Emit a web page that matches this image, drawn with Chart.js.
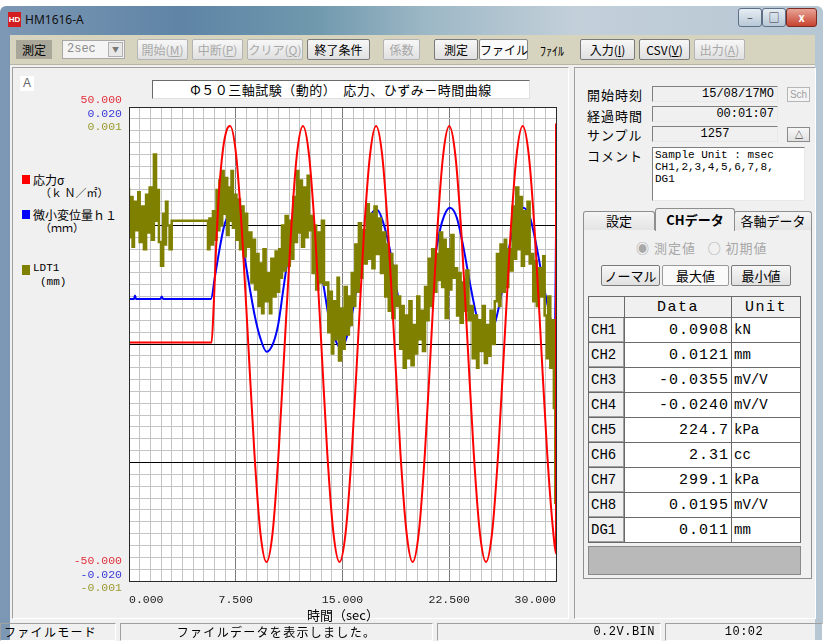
<!DOCTYPE html>
<html lang="ja">
<head>
<meta charset="utf-8">
<title>HM1616-A</title>
<script src="https://cdn.jsdelivr.net/npm/chart.js@4.4.1/dist/chart.umd.min.js"></script>
<style>
  * { box-sizing: border-box; }
  body { margin: 0; width: 823px; height: 641px; overflow: hidden; position: relative; background: #fff;
         font-family: "Noto Sans CJK JP", sans-serif; font-size: 12px; color: #000; }
  .a { position: absolute; white-space: nowrap; }
  .mono { font-family: "Liberation Mono", monospace; }

  #frame { left: 0; top: 6px; width: 823px; height: 635px; border-radius: 6px 6px 0 0;
           background: linear-gradient(90deg, #7d98b4 0%, #5f84a6 22%, #6f98ad 38%, #9db8c6 52%, #c3d0da 70%, #b6c6d3 100%); }
  #client { left: 10px; top: 35px; width: 805px; height: 606px; background: #f0f0f0; }
  #toolbar { left: 10px; top: 35px; width: 805px; height: 30px; background: #d6d3be; border-bottom: 1px solid #b8b5a2; }

  .btn { position: absolute; top: 39px; height: 21px; border: 1px solid #7a7a7a; border-radius: 2px;
         background: linear-gradient(#f7f7f7, #e0e0e0); text-align: center; line-height: 19px; font-size: 12px; white-space: nowrap; }
  .btn.off { color: #a8a8a8; border-color: #b4b4b4; }
  .btn.down { background: #fafafa; border-color: #8a8a8a; }

  .win { top: 8px; height: 19px; border: 1px solid #5d6f84; border-radius: 3px;
         background: linear-gradient(#e6edf3, #b8c8d6); color: #334; text-align: center; font-size: 11px; line-height: 16px; }

  .panel { border: 1px solid; border-color: #a0a0a0 #ffffff #ffffff #a0a0a0; }
  .field { background: #f0f0f0; border: 1px solid; border-color: #7f7f7f #e8e8e8 #e8e8e8 #7f7f7f; height: 16px;
           font-family: "Liberation Mono", monospace; font-size: 12px; line-height: 14px; padding: 0 3px; }
  .lbl { font-size: 13px; letter-spacing: 1px; }

  .stat { top: 623px; height: 18px; border: 1px solid; border-color: #a0a0a0 #fff #fff #a0a0a0; font-size: 12px;
          letter-spacing: 1.3px; line-height: 16px; }

  #tbl { left: 588px; top: 296px; border-collapse: collapse; position: absolute; }
  #tbl td, #tbl th { border: 1px solid #6a6a6a; padding: 0; height: 25px; font-weight: normal; }
  #tbl th { height: 21px; background: #f0f0f0; font-family: "Liberation Mono", monospace; font-size: 15px; letter-spacing: 1.5px; }
  #tbl td.h { width: 36px; background: #f0f0f0; font-family: "Liberation Mono", monospace; font-size: 14px; padding-left: 2px;
              box-shadow: inset -1px -1px 0 #a0a0a0; }
  #tbl td.v { width: 107px; background: #fff; text-align: right; font-family: "Liberation Mono", monospace; font-size: 15px;
              letter-spacing: 1px; padding-right: 2px; }
  #tbl td.u { width: 69px; background: #fff; font-family: "Liberation Mono", monospace; font-size: 14px; padding-left: 2px; }

  #plotWrap { left: 60px; top: 90px; width: 510px; height: 530px; }
</style>
</head>
<body>

<!-- window chrome -->
<div id="frame" class="a"></div>
<div class="a" style="left:8px;top:12px;width:13px;height:15px;background:#d21e1e;color:#fff;font:bold 8px 'Liberation Sans';line-height:15px;text-align:center;">HD</div>
<div class="a" style="left:25px;top:11px;font:12px 'Noto Sans';color:#111;">HM1616-A</div>
<div class="a win" style="left:738px;width:24px;">&#8211;</div>
<div class="a win" style="left:762px;width:24px;">&#9633;</div>
<div class="a win" style="left:786px;width:31px;background:linear-gradient(#e8a496,#c7432f);color:#fff;border-color:#7c2b22;font-weight:bold;">x</div>

<div id="client" class="a"></div>
<div id="toolbar" class="a"></div>

<!-- toolbar -->
<div class="a" style="left:16px;top:40px;width:36px;height:19px;background:#a9a79a;text-align:center;line-height:19px;font-size:12px;">測定</div>
<div class="a" style="left:62px;top:40px;width:63px;height:19px;background:#f4f4f4;border:1px solid #a8a8a8;font:12px 'Liberation Mono';color:#8a8a8a;line-height:17px;padding-left:4px;">2sec</div>
<div class="a" style="left:108px;top:42px;width:15px;height:15px;border:1px solid #b0b0b0;background:#e8e8e8;font-size:7px;text-align:center;line-height:13px;color:#777;">&#9660;</div>
<div class="btn off" style="left:137px;width:51px;">開始(<u>M</u>)</div>
<div class="btn off" style="left:192px;width:51px;">中断(<u>P</u>)</div>
<div class="btn off" style="left:247px;width:56px;">クリア(<u>Q</u>)</div>
<div class="btn" style="left:307px;width:63px;">終了条件</div>
<div class="btn off" style="left:383px;width:37px;">係数</div>
<div class="btn" style="left:434px;width:44px;">測定</div>
<div class="btn down" style="left:479px;width:49px;">ファイル</div>
<div class="a" style="left:540px;top:42px;font-size:12px;">ﾌｧｲﾙ</div>
<div class="btn" style="left:580px;width:55px;">入力(<u>I</u>)</div>
<div class="btn" style="left:639px;width:51px;">CSV(<u>V</u>)</div>
<div class="btn off" style="left:694px;width:51px;">出力(<u>A</u>)</div>

<!-- graph panel -->
<div class="a panel" style="left:12px;top:67px;width:557px;height:552px;"></div>
<div class="a" style="left:20px;top:76px;width:14px;height:15px;background:#fff;color:#666;font:12px 'Liberation Sans';text-align:center;line-height:15px;">A</div>
<div class="a" style="left:152px;top:80px;width:378px;height:19px;background:#fff;border:1px solid;border-color:#6a6a6a #e0e0e0 #e0e0e0 #6a6a6a;text-align:center;font-size:13px;line-height:17px;letter-spacing:0.5px;">Φ５０三軸試験（動的）　応力、ひずみ－時間曲線</div>

<div class="a" style="left:22px;top:175px;width:8px;height:9px;background:#ff0000;"></div>
<div class="a" style="left:33px;top:171px;font-size:12px;">応力σ</div>
<div class="a" style="left:40px;top:184px;font-size:11px;">（ｋ Ｎ／㎡）</div>
<div class="a" style="left:22px;top:210px;width:8px;height:9px;background:#0000ff;"></div>
<div class="a" style="left:33px;top:206px;font-size:12px;">微小変位量ｈ１</div>
<div class="a" style="left:40px;top:219px;font-size:11px;">（ｍｍ）</div>
<div class="a" style="left:22px;top:265px;width:8px;height:10px;background:#808000;"></div>
<div class="a mono" style="left:33px;top:262px;font-size:11px;">LDT1</div>
<div class="a mono" style="left:40px;top:276px;font-size:11px;">(mm)</div>

<div id="plotWrap" class="a"><canvas id="plot" width="510" height="530"></canvas></div>
<div class="a" style="left:307px;top:605px;font-size:13px;">時間（sec）</div>

<!-- right panel -->
<div class="a panel" style="left:574px;top:67px;width:242px;height:552px;"></div>
<div class="a lbl" style="left:587px;top:85px;">開始時刻</div>
<div class="a lbl" style="left:587px;top:106px;">経過時間</div>
<div class="a lbl" style="left:587px;top:125px;">サンプル</div>
<div class="a lbl" style="left:587px;top:146px;">コメント</div>
<div class="a field" style="left:652px;top:86px;width:126px;text-align:right;">15/08/17MO</div>
<div class="a field" style="left:652px;top:106px;width:126px;text-align:right;">00:01:07</div>
<div class="a field" style="left:652px;top:126px;width:126px;text-align:center;">1257</div>
<div class="a" style="left:787px;top:87px;width:23px;height:15px;border:1px solid #b6b6b6;background:#f4f4f4;color:#a0a0a0;font:10px 'Liberation Sans';text-align:center;line-height:13px;">Sch</div>
<div class="a" style="left:787px;top:127px;width:23px;height:15px;border:1px solid #8a8a8a;background:linear-gradient(#f7f7f7,#e0e0e0);font:10px 'Liberation Sans';text-align:center;line-height:13px;">&#9651;</div>
<div class="a mono" style="left:652px;top:147px;width:153px;height:54px;background:#fff;border:1px solid;border-color:#7f7f7f #e8e8e8 #e8e8e8 #7f7f7f;font-size:11px;line-height:12px;padding:1px 2px;white-space:pre;">Sample Unit : msec
CH1,2,3,4,5,6,7,8,
DG1</div>

<!-- tabs -->
<div class="a" style="left:583px;top:229px;width:229px;height:350px;border:1px solid #8e8e8e;background:#f0f0f0;"></div>
<div class="a" style="left:583px;top:211px;width:72px;height:19px;border:1px solid #8e8e8e;border-bottom:none;border-radius:3px 3px 0 0;background:linear-gradient(#f4f4f4,#e4e4e4);text-align:center;font-size:13px;line-height:17px;">設定</div>
<div class="a" style="left:734px;top:211px;width:78px;height:19px;border:1px solid #8e8e8e;border-bottom:none;border-radius:3px 3px 0 0;background:linear-gradient(#f4f4f4,#e4e4e4);text-align:center;font-size:13px;line-height:17px;">各軸データ</div>
<div class="a" style="left:655px;top:208px;width:80px;height:23px;border:1px solid #8e8e8e;border-bottom:none;border-radius:3px 3px 0 0;background:#f0f0f0;text-align:center;font-size:13px;line-height:21px;font-weight:bold;">CHデータ</div>

<div class="a" style="left:636px;top:238px;font-size:13px;color:#a8a8a8;letter-spacing:1px;">&#9673; 測定値&nbsp;&nbsp;&nbsp;&#9675; 初期値</div>
<div class="btn" style="left:601px;top:265px;width:59px;font-size:13px;">ノーマル</div>
<div class="btn down" style="left:662px;top:265px;width:67px;font-size:13px;border-color:#9a9a9a;">最大値</div>
<div class="btn" style="left:731px;top:265px;width:60px;font-size:13px;">最小値</div>

<table id="tbl">
  <tr><th style="width:36px;"></th><th>Data</th><th>Unit</th></tr>
  <tr><td class="h">CH1</td><td class="v">0.0908</td><td class="u">kN</td></tr>
  <tr><td class="h">CH2</td><td class="v">0.0121</td><td class="u">mm</td></tr>
  <tr><td class="h">CH3</td><td class="v">-0.0355</td><td class="u">mV/V</td></tr>
  <tr><td class="h">CH4</td><td class="v">-0.0240</td><td class="u">mV/V</td></tr>
  <tr><td class="h">CH5</td><td class="v">224.7</td><td class="u">kPa</td></tr>
  <tr><td class="h">CH6</td><td class="v">2.31</td><td class="u">cc</td></tr>
  <tr><td class="h">CH7</td><td class="v">299.1</td><td class="u">kPa</td></tr>
  <tr><td class="h">CH8</td><td class="v">0.0195</td><td class="u">mV/V</td></tr>
  <tr><td class="h">DG1</td><td class="v">0.011</td><td class="u">mm</td></tr>
</table>
<div class="a" style="left:588px;top:546px;width:213px;height:29px;background:#b9b9b9;border:1px solid #8a8a8a;"></div>

<!-- status bar -->
<div class="a stat" style="left:0;width:116px;padding-left:3px;">ファイルモード</div>
<div class="a stat" style="left:120px;width:313px;text-align:center;">ファイルデータを表示しました。</div>
<div class="a stat mono" style="left:437px;width:224px;text-align:right;padding-right:5px;letter-spacing:0.5px;">0.2V.BIN</div>
<div class="a stat mono" style="left:665px;width:158px;text-align:center;letter-spacing:0.5px;">10:02</div>

<script>
// time axis (sec) and the three recorded channels
const timeRange = [0, 30];
const timeMajorStep = 7.5;
const timeMinorStep = 0.75;

const stressRange = [-50, 50];     // 応力σ kN/m2
const dispRange = [-0.02, 0.02];   // 微小変位量 h1 mm
const ldtRange = [-0.001, 0.001];  // LDT1 mm

// the last sample of each channel jumps at the 30 s edge
const redTime = [0, 5.80, 5.95, 6.10, 6.30, 6.60, 6.85, 7.10,
  7.53, 7.95, 8.38, 8.81, 9.23, 9.66,
  10.09, 10.51, 10.94, 11.37, 11.79, 12.22,
  12.65, 13.08, 13.51, 13.93, 14.36, 14.79,
  15.22, 15.65, 16.08, 16.50, 16.93, 17.36,
  17.79, 18.22, 18.65, 19.07, 19.50, 19.93,
  20.36, 20.79, 21.22, 21.64, 22.07, 22.50,
  22.93, 23.36, 23.79, 24.22, 24.65, 25.08,
  25.51, 25.94, 26.37, 26.80, 27.23, 27.66,
  28.09, 28.52, 28.95, 29.38, 29.81, 30.00, 30.00];
const redStress = [0.3, 0.3, 8, 19, 31, 41, 45, 46,
  39.8, 23, 0, -23, -39.8, -46,
  -39.8, -23, 0, 23, 39.8, 46,
  39.8, 23, 0, -23, -39.8, -46,
  -39.8, -23, 0, 23, 39.8, 46,
  39.8, 23, 0, -23, -39.8, -46,
  -39.8, -23, 0, 23, 39.8, 46,
  39.8, 23, 0, -23, -39.8, -46,
  -39.8, -23, 0, 23, 39.8, 46,
  39.8, 23, 0, -23, -39.8, -44.2, 46.5];

const blueTime = [0, 0.35, 0.42, 0.50, 2.20, 2.30, 2.40, 5.76,
  6.04, 6.39, 6.74, 7.10, 7.45, 7.80, 8.15, 8.50, 8.85, 9.20,
  9.67, 10.14, 10.49, 10.84, 11.19, 11.54, 11.90, 12.30, 12.72, 13.19,
  13.65, 14.12, 14.59, 14.90, 15.30, 15.76, 16.23, 16.70, 17.05, 17.45,
  17.87, 18.34, 18.81, 19.27, 19.74, 20.09, 20.56, 21.03, 21.50, 21.97,
  22.55, 23.02, 23.49, 23.96, 24.43, 24.89, 25.36, 25.83, 26.30, 26.77,
  27.24, 27.70, 28.17, 28.64, 29.11, 29.58, 29.93, 30.00];
const blueDisp = [0.0038, 0.0038, 0.0041, 0.0038, 0.0038, 0.0040, 0.0038, 0.0038,
  0.0057, 0.0082, 0.0102, 0.0108, 0.0103, 0.0091, 0.0071, 0.0046, 0.0023, 0.0006,
  -0.00065, 0.0001, 0.0017, 0.0046, 0.0074, 0.0093, 0.0107, 0.0113, 0.0107, 0.0085,
  0.0051, 0.0017, 0.0001, -0.0004, 0.0006, 0.0031, 0.0065, 0.0096, 0.0110, 0.0113,
  0.0102, 0.0079, 0.0046, 0.0017, 0.0003, 0.0001, 0.0012, 0.0040, 0.0074, 0.0102,
  0.0115, 0.0107, 0.0082, 0.0051, 0.0023, 0.0003, 0.0006, 0.0023, 0.0051, 0.0085,
  0.0107, 0.0115, 0.0107, 0.0082, 0.0051, 0.0023, 0.0005, 0.0094];

// LDT1 is a stepped signal: [time, value] at each change
const ldtSteps = [
  [0, 0.00066], [0.10, 0.00045], [0.25, 0.00062], [0.35, 0.00041], [0.50, 0.00060], [0.65, 0.00048],
  [0.75, 0.00064], [0.90, 0.00043], [1.05, 0.00058], [1.20, 0.00040], [1.30, 0.00063], [1.45, 0.00047],
  [1.60, 0.00066], [1.75, 0.00044], [1.90, 0.00080], [2.00, 0.00052], [2.10, 0.00065], [2.25, 0.00043],
  [2.40, 0.00033], [2.50, 0.00055], [2.60, 0.00042], [2.70, 0.00060], [2.85, 0.00050], [3.00, 0.00040],
  [5.55, 0.00052], [5.65, 0.00040], [5.80, 0.00053], [5.90, 0.00042], [6.05, 0.00056], [6.15, 0.00044],
  [6.25, 0.00065], [6.35, 0.00048], [6.45, 0.00069], [6.55, 0.00050], [6.65, 0.00073], [6.80, 0.00055],
  [6.90, 0.00070], [7.00, 0.00046], [7.10, 0.00066], [7.20, 0.00052], [7.30, 0.00073], [7.45, 0.00049],
  [7.55, 0.00063], [7.65, 0.00044], [7.80, 0.00061], [7.90, 0.00040], [8.05, 0.00058], [8.20, 0.00037],
  [8.30, 0.00055], [8.45, 0.00041], [8.60, 0.00047], [8.70, 0.00026], [8.85, 0.00044], [8.95, 0.00023],
  [9.10, 0.00038], [9.20, 0.00016], [9.35, 0.00034], [9.45, 0.00013], [9.60, 0.00040], [9.75, 0.00018],
  [9.90, 0.00030], [10.00, 0.00013], [10.15, 0.00036], [10.30, 0.00020], [10.40, 0.00039], [10.55, 0.00022],
  [10.65, 0.00040], [10.75, 0.00028], [10.90, 0.00050], [11.00, 0.00031], [11.15, 0.00054], [11.30, 0.00033],
  [11.40, 0.00052], [11.55, 0.00036], [11.65, 0.00062], [11.80, 0.00043], [11.90, 0.00073], [12.05, 0.00047],
  [12.15, 0.00069], [12.30, 0.00041], [12.40, 0.00066], [12.55, 0.00045], [12.65, 0.00071], [12.80, 0.00048],
  [12.90, 0.00054], [13.05, 0.00030], [13.15, 0.00050], [13.30, 0.00023], [13.45, 0.00047], [13.55, 0.00026],
  [13.70, 0.00052], [13.85, 0.00025], [14.00, 0.00026], [14.10, 0.00005], [14.25, 0.00022], [14.35, -0.00004],
  [14.50, 0.00018], [14.65, 0.00002], [14.75, 0.00028], [14.90, -0.00007], [15.05, 0.00015], [15.15, -0.00002],
  [15.30, 0.00024], [15.45, 0.00004], [15.55, 0.00020], [15.65, 0.00008], [15.75, 0.00030], [15.90, 0.00016],
  [16.00, 0.00042], [16.15, 0.00022], [16.30, 0.00051], [16.40, 0.00028], [16.55, 0.00048], [16.70, 0.00034],
  [16.85, 0.00059], [17.00, 0.00036], [17.10, 0.00055], [17.25, 0.00032], [17.40, 0.00058], [17.55, 0.00038],
  [17.70, 0.00053], [17.85, 0.00030], [18.00, 0.00047], [18.10, 0.00020], [18.25, 0.00042], [18.40, 0.00014],
  [18.50, 0.00038], [18.65, 0.00011], [18.80, 0.00033], [18.90, 0.00016], [19.05, 0.00020], [19.15, -0.00002],
  [19.30, 0.00016], [19.45, -0.00010], [19.55, 0.00012], [19.70, -0.00006], [19.85, 0.00018], [20.00, -0.00009],
  [20.10, 0.00008], [20.25, -0.00004], [20.40, 0.00020], [20.55, 0.00002], [20.65, 0.00014], [20.80, -0.00003],
  [20.95, 0.00024], [21.05, 0.00010], [21.20, 0.00036], [21.30, 0.00016], [21.45, 0.00040], [21.60, 0.00022],
  [21.70, 0.00038], [21.85, 0.00027], [22.00, 0.00047], [22.10, 0.00024], [22.25, 0.00044], [22.40, 0.00011],
  [22.50, 0.00040], [22.65, 0.00023], [22.80, 0.00046], [22.90, 0.00028], [23.05, 0.00032], [23.15, 0.00012],
  [23.30, 0.00030], [23.45, 0.00009], [23.55, 0.00026], [23.70, 0.00014], [23.85, 0.00031], [24.00, 0.00010],
  [24.15, 0.00016], [24.30, -0.00006], [24.45, 0.00012], [24.55, -0.00010], [24.70, 0.00010], [24.85, -0.00003],
  [25.00, 0.00016], [25.15, -0.00008], [25.25, 0.00008], [25.40, -0.00005], [25.55, 0.00014], [25.70, 0.00000],
  [25.85, 0.00018], [26.00, 0.00038], [26.10, 0.00016], [26.25, 0.00042], [26.40, 0.00022], [26.50, 0.00044],
  [26.65, 0.00024], [26.80, 0.00040], [26.95, 0.00031], [27.10, 0.00058], [27.20, 0.00036], [27.35, 0.00066],
  [27.50, 0.00040], [27.60, 0.00062], [27.75, 0.00033], [27.90, 0.00056], [28.00, 0.00038], [28.15, 0.00060],
  [28.30, 0.00034], [28.40, 0.00038], [28.55, 0.00018], [28.65, 0.00035], [28.80, 0.00016], [28.95, 0.00032],
  [29.10, 0.00020], [29.20, 0.00037], [29.35, 0.00012], [29.45, -0.00006], [29.60, 0.00020], [29.70, -0.00010],
  [29.85, 0.00010], [29.95, -0.00027], [30.00, -0.00067]
];

const seriesColors = { stress: '#ff0000', disp: '#0000ff', ldt: '#808000' };

function isMajor(v, step) {
  const q = v / step;
  return Math.abs(q - Math.round(q)) < 1e-6;
}

// white plot face, dark frame and the stacked range labels at both ends of the y axes
const plotFrame = {
  id: 'plotFrame',
  beforeDraw(chart) {
    const { ctx, chartArea: a } = chart;
    ctx.save();
    ctx.fillStyle = '#ffffff';
    ctx.fillRect(a.left, a.top, a.right - a.left, a.bottom - a.top);
    ctx.restore();
  },
  afterDatasetsDraw(chart) {
    const { ctx, chartArea: a, scales } = chart;
    ctx.save();
    ctx.strokeStyle = '#2a2a2a';
    ctx.lineWidth = 1;
    ctx.strokeRect(Math.round(a.left) + 0.5, Math.round(a.top) + 0.5,
                   Math.round(a.right - a.left), Math.round(a.bottom - a.top));

    ctx.font = '11.5px "Liberation Mono"';
    ctx.textAlign = 'right';
    ctx.textBaseline = 'middle';
    const axes = [['y', '#e0303c'], ['y2', '#3838d8'], ['y3', '#9a9a2e']];
    const x = a.left - 7;
    axes.forEach(([id, txt], i) => {
      const s = scales[id];
      ctx.fillStyle = txt;
      ctx.fillText(s.max.toFixed(3), x, a.top - 7 + i * 13.5);
      ctx.fillText(s.min.toFixed(3), x, a.bottom - 20 + i * 13.5);
    });
    ctx.restore();
  }
};

const minorTimeTicks = [];
for (let t = timeRange[0]; t <= timeRange[1] + 1e-9; t += timeMinorStep) minorTimeTicks.push({ value: +t.toFixed(4) });
const minorStressTicks = [];
for (let s = stressRange[0]; s <= stressRange[1] + 1e-9; s += 2.5) minorStressTicks.push({ value: +s.toFixed(4) });

// h1 at the back, LDT1 over it, stress curve on top
new Chart(document.getElementById('plot'), {
  type: 'line',
  data: {
    datasets: [
      {
        label: '応力σ',
        data: redTime.map((t, i) => ({ x: t, y: redStress[i] })),
        yAxisID: 'y',
        borderColor: seriesColors.stress,
        borderWidth: 2,
        pointRadius: 0,
        cubicInterpolationMode: 'monotone',
        order: 1
      },
      {
        label: '微小変位量ｈ１',
        data: blueTime.map((t, i) => ({ x: t, y: blueDisp[i] })),
        yAxisID: 'y2',
        borderColor: seriesColors.disp,
        borderWidth: 2,
        pointRadius: 0,
        cubicInterpolationMode: 'monotone',
        order: 3
      },
      {
        label: 'LDT1',
        data: ldtSteps.map(([t, v]) => ({ x: t, y: v })),
        yAxisID: 'y3',
        borderColor: seriesColors.ldt,
        borderWidth: 2.5,
        pointRadius: 0,
        stepped: 'after',
        order: 2
      }
    ]
  },
  options: {
    responsive: false,
    animation: false,
    events: [],
    layout: { padding: { left: 69, right: 14, top: 17, bottom: 0 } },
    plugins: { legend: { display: false }, tooltip: { enabled: false } },
    scales: {
      x: {
        type: 'linear',
        min: timeRange[0],
        max: timeRange[1],
        afterBuildTicks: s => { s.ticks = minorTimeTicks.map(t => ({ ...t })); },
        afterFit: s => { s.height = 39; },
        border: { display: false },
        grid: {
          drawTicks: false,
          color: c => isMajor(c.tick.value, timeMajorStep) ? '#7c7c7c' : '#c4c4c4'
        },
        ticks: {
          autoSkip: false,
          maxRotation: 0,
          align: 'inner',
          padding: 12,
          color: '#222',
          font: { family: 'Liberation Mono', size: 11.5 },
          callback: v => isMajor(v, timeMajorStep) ? v.toFixed(3) : ''
        }
      },
      y: {
        min: stressRange[0],
        max: stressRange[1],
        afterBuildTicks: s => { s.ticks = minorStressTicks.map(t => ({ ...t })); },
        afterFit: s => { s.width = 0; },
        border: { display: false },
        grid: {
          drawTicks: false,
          color: c => isMajor(c.tick.value, 25) ? '#000000' : '#c4c4c4'
        },
        ticks: { display: false }
      },
      y2: { min: dispRange[0], max: dispRange[1], display: false },
      y3: { min: ldtRange[0], max: ldtRange[1], display: false }
    }
  },
  plugins: [plotFrame]
});
</script>
</body>
</html>
